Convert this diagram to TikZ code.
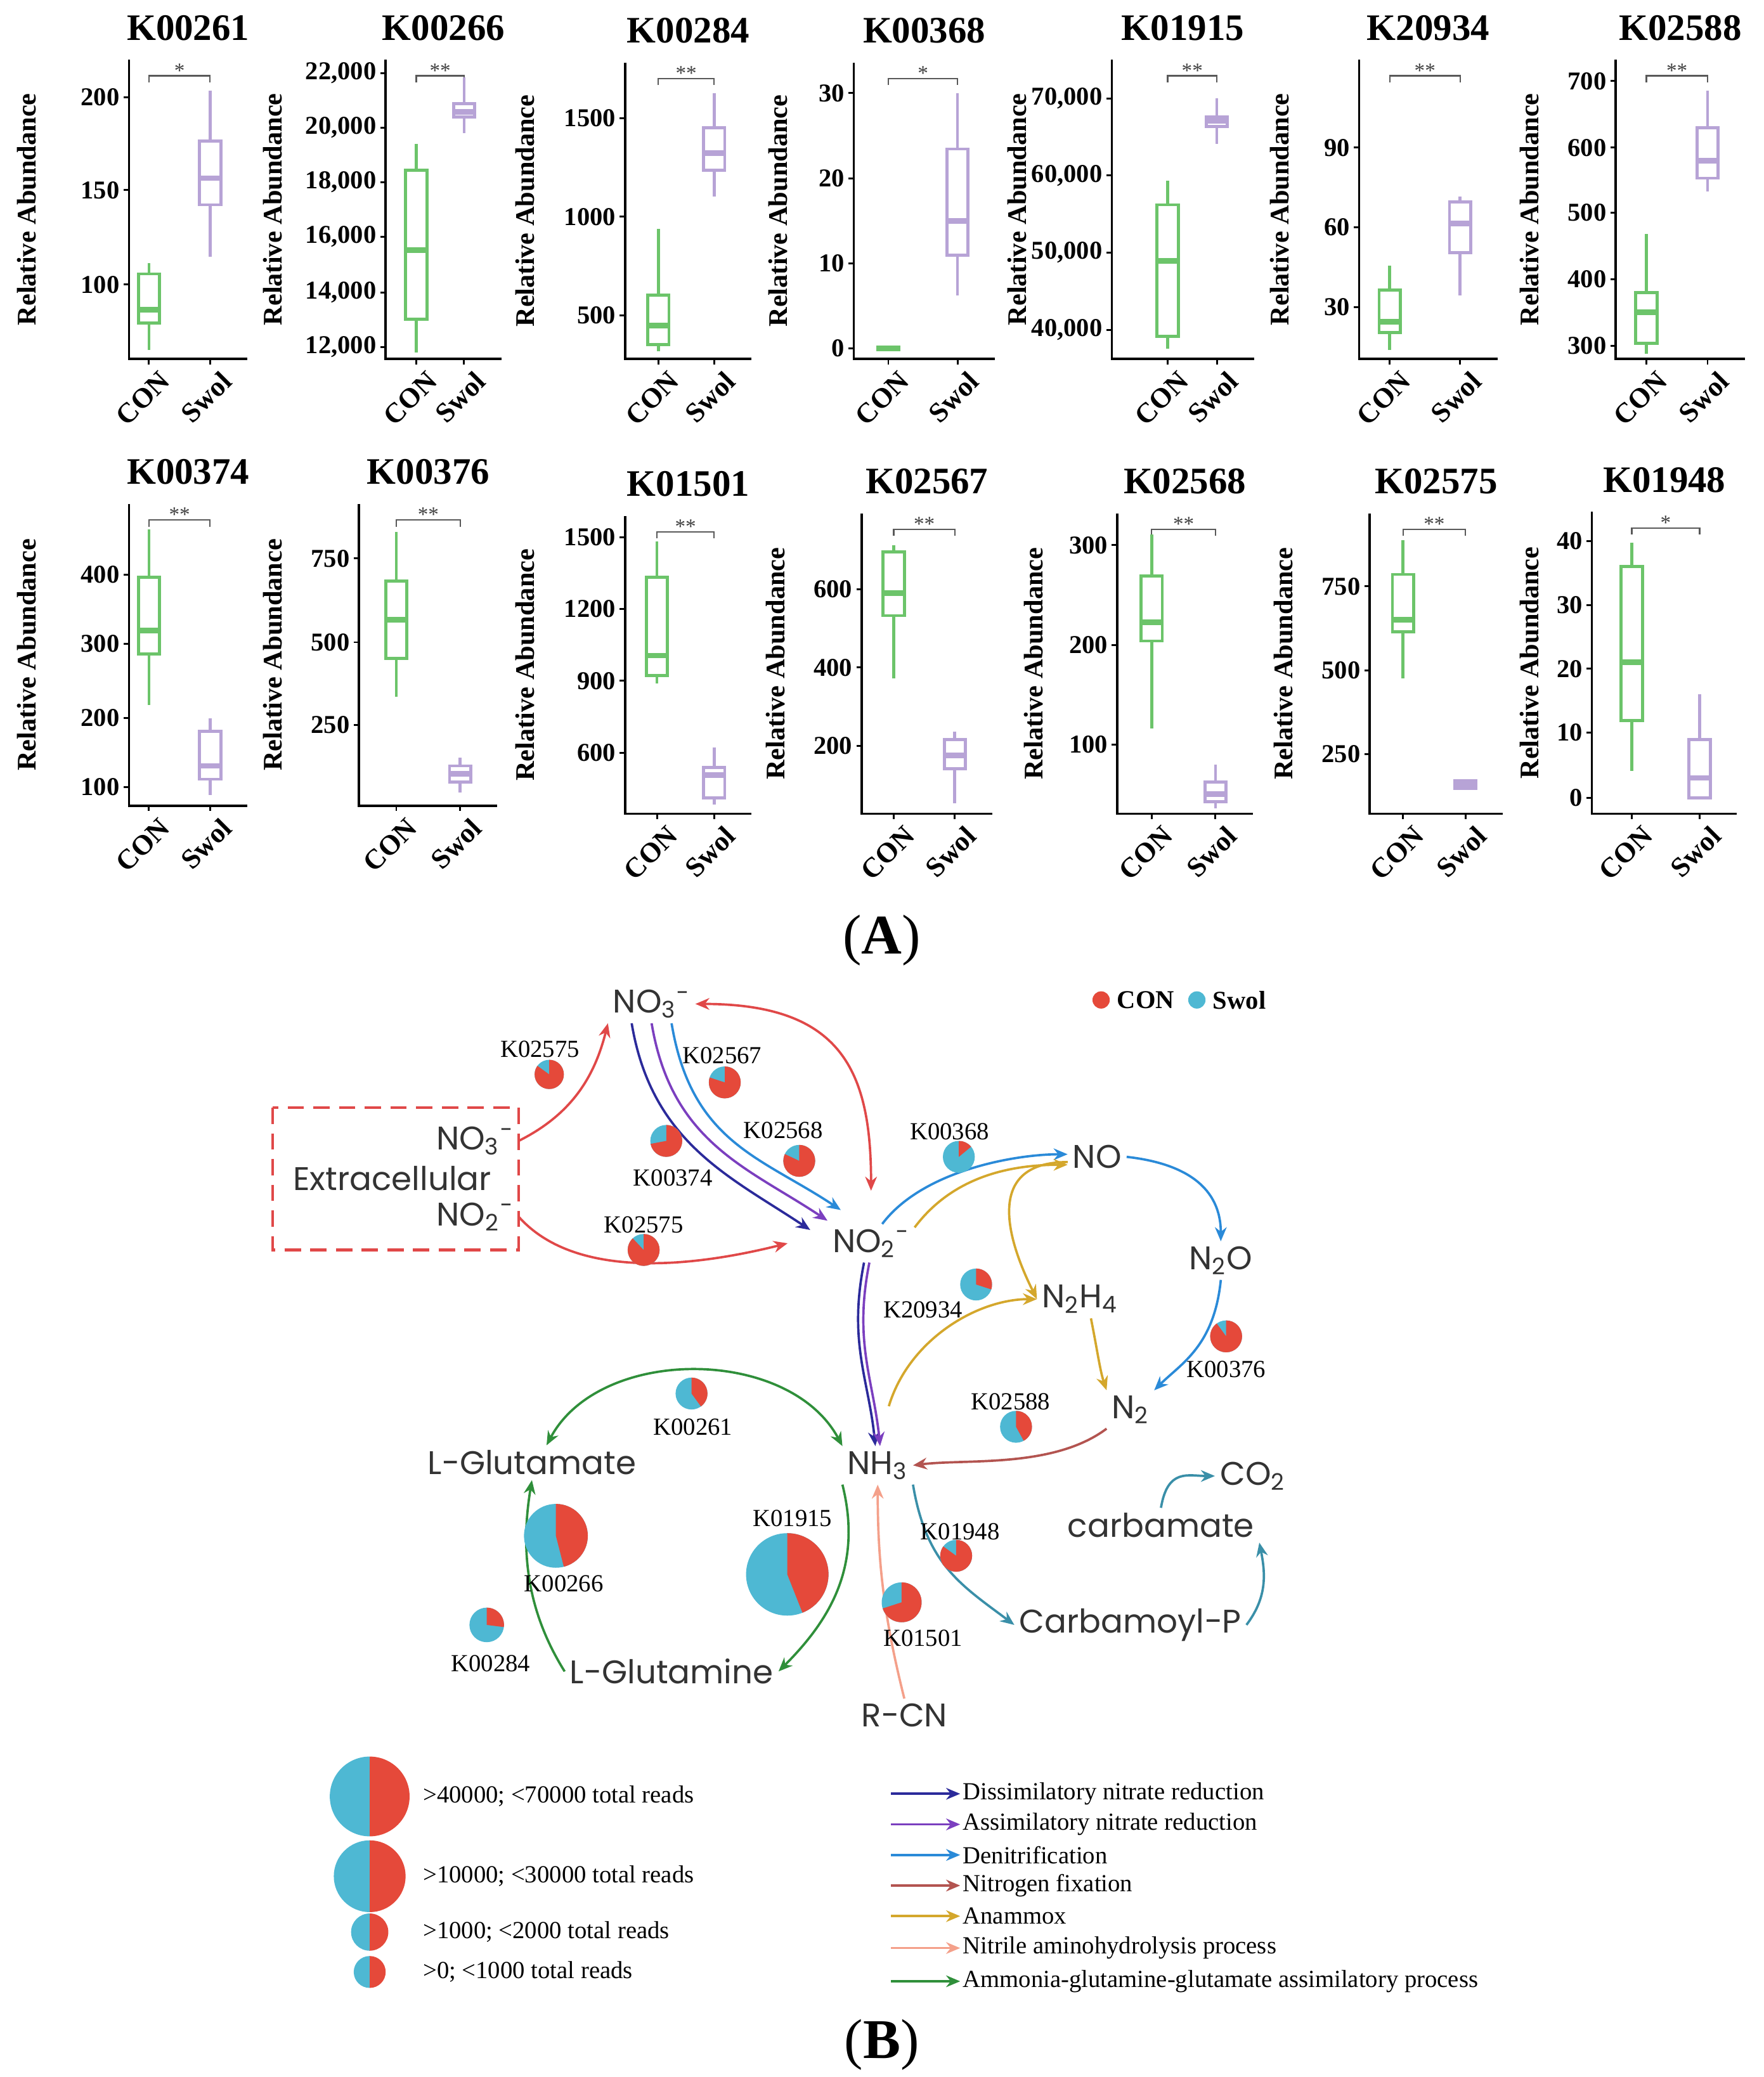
\documentclass[tikz,border=0pt]{standalone}
\usepackage{fontspec}
\setmainfont{Liberation Serif}
\newfontfamily\chemfont{Poppins}
\usepackage{xcolor}
\usetikzlibrary{arrows.meta}

\definecolor{conred}{HTML}{E5493A}
\definecolor{swolblue}{HTML}{4EB8D3}
\definecolor{boxgreen}{HTML}{6CC46A}
\definecolor{boxpurple}{HTML}{B7A3D6}
\definecolor{dissim}{HTML}{2B2A9A}
\definecolor{assim}{HTML}{7B3FBF}
\definecolor{denit}{HTML}{2A8AD8}
\definecolor{nfix}{HTML}{B35450}
\definecolor{anam}{HTML}{D4A72C}
\definecolor{nitrile}{HTML}{F4A08A}
\definecolor{ammo}{HTML}{2F8F3A}
\definecolor{carbo}{HTML}{3A8FA8}
\definecolor{exred}{HTML}{E04848}

% one boxplot panel: L, top, bottom, CON x, Swol x, title, stars, label x
\newcommand{\panel}[8]{%
  \draw[line width=1pt] (#1,#2) -- (#1,#3) -- (#5+28,#3);
  \draw[line width=0.8pt] (#4,#3) -- (#4,#3+4) (#5,#3) -- (#5,#3+4);
  \node[ttl] at ({(#1+#5+28)/2},#2-24) {#6};
  \draw[gray!70!black, line width=0.6pt] (#4,#2+17) -- (#4,#2+12) -- (#5,#2+12) -- (#5,#2+17);
  \node[star] at ({(#4+#5)/2},#2+8) {#7};
  \node[grp] at (#4+7,#3+5) {CON};
  \node[grp] at (#5+7,#3+5) {Swol};
  \node[ylab] at (#8,{(#2+#3)/2}) {Relative Abundance};
}
\newcommand{\yticks}[2]{%
  \foreach \p/\t in {#2} {
    \draw[line width=0.8pt] (#1-4,\p) -- (#1,\p);
    \node[tick] at (#1-5,\p) {\t};
  }
}
% x, whisker top, q3, median, q1, whisker bottom, colour
\newcommand{\bx}[7]{%
  \draw[#7, line width=1.3pt] (#1,#2) -- (#1,#3) (#1,#5) -- (#1,#6);
  \draw[#7, line width=1.3pt] (#1-8,#3) rectangle (#1+8,#5);
  \draw[#7, line width=2.4pt] (#1-8,#4) -- (#1+8,#4);
}
% pie: x, y, radius, CON fraction
\newcommand{\pie}[4]{%
  \begin{scope}[shift={(#1,#2)}]
    \fill[swolblue] (0,0) circle[radius=#3*0.02cm];
    \fill[conred] (0,0) -- (0,-#3) arc[start angle=90, end angle={90-360*#4}, radius=#3*0.02cm] -- cycle;
  \end{scope}
}

\begin{document}
\begin{tikzpicture}[x=0.02cm, y=-0.02cm, >={Stealth[length=6pt,width=5pt]},
    ttl/.style={font=\fontsize{16}{18}\selectfont\bfseries},
    star/.style={font=\fontsize{9}{10}\selectfont, gray!50!black},
    grp/.style={font=\fontsize{12}{14}\selectfont\bfseries, rotate=45, anchor=north east, inner sep=1pt},
    ylab/.style={font=\fontsize{11.5}{13}\selectfont\bfseries, rotate=90},
    tick/.style={font=\fontsize{11}{13}\selectfont\bfseries, anchor=east, inner sep=1pt},
    chem/.style={font=\chemfont\fontsize{14}{16}\selectfont, inner sep=2pt, text=black!80},
    klab/.style={font=\fontsize{10.5}{12}\selectfont, inner sep=1pt},
    leg/.style={font=\fontsize{10.5}{12}\selectfont, anchor=west, inner sep=1pt},
    path/.style={line width=1pt}]
\useasboundingbox (0,0) rectangle (1326,1562);

% ---------- (A) boxplots, first row
\panel{97}{45}{270}{112}{158}{K00261}{*}{20}
\yticks{97}{73/200,143/150,214/100}
\bx{112}{198}{206}{233}{243}{263}{boxgreen}
\bx{158}{68}{106}{134}{154}{193}{boxpurple}

\panel{290}{45}{270}{313}{349}{K00266}{**}{205}
\yticks{290}{55/{22,000},96/{20,000},137/{18,000},178/{16,000},220/{14,000},261/{12,000}}
\bx{313}{108}{128}{188}{240}{265}{boxgreen}
\bx{349}{58}{78}{84}{88}{100}{boxpurple}

\panel{470}{47}{270}{495}{537}{K00284}{**}{395}
\yticks{470}{89/1500,163/1000,237/500}
\bx{495}{172}{222}{245}{259}{264}{boxgreen}
\bx{537}{70}{96}{115}{128}{148}{boxpurple}

\panel{642}{47}{270}{668}{720}{K00368}{*}{585}
\yticks{642}{70/30,134/20,198/10,262/0}
\bx{668}{261}{261}{262}{263}{263}{boxgreen}
\bx{720}{70}{112}{166}{192}{222}{boxpurple}

\panel{836}{45}{270}{878}{915}{K01915}{**}{765}
\yticks{836}{74/{70,000},132/{60,000},190/{50,000},248/{40,000}}
\bx{878}{136}{154}{196}{253}{262}{boxgreen}
\bx{915}{74}{88}{91}{95}{108}{boxpurple}

\panel{1022}{45}{270}{1045}{1098}{K20934}{**}{962}
\yticks{1022}{111/90,171/60,231/30}
\bx{1045}{200}{218}{242}{250}{263}{boxgreen}
\bx{1098}{148}{152}{168}{190}{222}{boxpurple}

\panel{1215}{45}{270}{1238}{1284}{K02588}{**}{1150}
\yticks{1215}{61/700,111/600,160/500,210/400,260/300}
\bx{1238}{176}{220}{235}{258}{266}{boxgreen}
\bx{1284}{68}{96}{121}{134}{144}{boxpurple}

% ---------- (A) boxplots, second row
\panel{97}{379}{606}{112}{158}{K00374}{**}{20}
\yticks{97}{432/400,484/300,540/200,592/100}
\bx{112}{398}{434}{474}{492}{530}{boxgreen}
\bx{158}{540}{550}{576}{586}{598}{boxpurple}

\panel{270}{379}{606}{298}{346}{K00376}{**}{205}
\yticks{270}{420/750,483/500,545/250}
\bx{298}{400}{437}{466}{495}{524}{boxgreen}
\bx{346}{570}{576}{582}{588}{596}{boxpurple}

\panel{470}{388}{612}{494}{537}{K01501}{**}{395}
\yticks{470}{404/1500,458/1200,512/900,566/600}
\bx{494}{407}{434}{493}{508}{514}{boxgreen}
\bx{537}{562}{577}{583}{600}{605}{boxpurple}

\panel{648}{386}{612}{672}{718}{K02567}{**}{583}
\yticks{648}{443/600,502/400,561/200}
\bx{672}{410}{415}{446}{463}{510}{boxgreen}
\bx{718}{550}{556}{568}{578}{604}{boxpurple}

\panel{840}{386}{612}{866}{914}{K02568}{**}{777}
\yticks{840}{410/300,485/200,560/100}
\bx{866}{402}{433}{468}{482}{548}{boxgreen}
\bx{914}{575}{588}{597}{603}{608}{boxpurple}

\panel{1030}{386}{612}{1055}{1102}{K02575}{**}{965}
\yticks{1030}{441/750,504/500,567/250}
\bx{1055}{406}{432}{466}{475}{510}{boxgreen}
\bx{1102}{586}{587}{590}{593}{594}{boxpurple}

\panel{1197}{385}{612}{1227}{1278}{K01948}{*}{1150}
\yticks{1197}{407/40,455/30,503/20,551/10,600/0}
\bx{1227}{408}{426}{498}{542}{580}{boxgreen}
\bx{1278}{522}{556}{585}{600}{600}{boxpurple}

\node[font=\fontsize{24}{26}\selectfont] (labA) at (663,707) {(\textbf{A})};

% ---------- (B) nitrogen pathways
\draw[exred, dashed, line width=1.2pt, dash pattern=on 7pt off 4pt] (205,833) rectangle (390,940);
\node[chem, anchor=east] (exno3) at (390,858) {NO\textsubscript{3}\textsuperscript{−}};
\node[chem] (exlab) at (295,886) {Extracellular};
\node[chem, anchor=east] (exno2) at (390,915) {NO\textsubscript{2}\textsuperscript{−}};

\node[chem] (no3) at (490,755) {NO\textsubscript{3}\textsuperscript{−}};
\node[chem] (no2) at (655,935) {NO\textsubscript{2}\textsuperscript{−}};
\node[chem] (no) at (825,870) {NO};
\node[chem] (n2o) at (918,948) {N\textsubscript{2}O};
\node[chem] (n2h4) at (812,977) {N\textsubscript{2}H\textsubscript{4}};
\node[chem] (n2) at (850,1060) {N\textsubscript{2}};
\node[chem] (nh3) at (660,1102) {NH\textsubscript{3}};
\node[chem] (glu) at (400,1100) {L−Glutamate};
\node[chem] (gln) at (505,1257) {L−Glutamine};
\node[chem] (rcn) at (680,1290) {R−CN};
\node[chem] (cp) at (850,1222) {Carbamoyl−P};
\node[chem] (carb) at (873,1147) {carbamate};
\node[chem] (co2) at (942,1110) {CO\textsubscript{2}};

% connectors
\draw[path, exred, ->] (exno3.east) .. controls +(40,-20) and +(-10,40) .. (no3.south west);
\draw[path, exred, <->] (no3.east) .. controls +(110,0) and +(0,-90) .. ([yshift=0.5cm]no2.north);
\draw[path, dissim, ->] ([xshift=-0.3cm]no3.south) .. controls +(15,90) and +(-60,-40) .. ([shift={(-13,-10)}]no2.west);
\draw[path, assim, ->] (no3.south) .. controls +(15,90) and +(-60,-40) .. ([shift={(0,-17)}]no2.west);
\draw[path, denit, ->] ([xshift=0.3cm]no3.south) .. controls +(15,90) and +(-60,-40) .. ([shift={(10,-25)}]no2.west);
\draw[path, exred, ->] (exno2.east) .. controls +(40,45) and +(-80,20) .. ([xshift=-0.6cm]no2.west);
\draw[path, denit, ->] (no2.60) .. controls +(30,-40) and +(-40,0) .. (no.175);
\draw[path, anam, ->] (no2.20) .. controls +(30,-40) and +(-40,0) .. (no.-165);
\draw[path, anam, ->] (no.-170) .. controls +(-60,0) and +(-25,-50) .. (n2h4.west);
\draw[path, anam, ->] ([yshift=0.6cm]nh3.60) .. controls +(15,-50) and +(-45,0) .. (n2h4.west);
\draw[path, anam, ->] (n2h4.-60) .. controls +(5,25) and +(-5,-15) .. (n2.north west);
\draw[path, denit, ->] (no.east) .. controls +(45,5) and +(0,-40) .. (n2o.north);
\draw[path, denit, ->] (n2o.south) .. controls +(-5,50) and +(20,-20) .. (n2.north east);
\draw[path, nfix, ->] (n2.south west) .. controls +(-40,30) and +(40,-5) .. (nh3.east);
\draw[path, dissim, ->] (no2.-110) .. controls +(-12,60) and +(-5,-50) .. (nh3.97);
\draw[path, assim, ->] (no2.-95) .. controls +(-12,60) and +(-5,-50) .. (nh3.83);
\draw[path, ammo, <->] (glu.50) .. controls +(40,-75) and +(-40,-75) .. (nh3.north west);
\draw[path, ammo, ->] (nh3.south west) .. controls +(15,60) and +(40,-40) .. (gln.east);
\draw[path, ammo, ->] (gln.west) .. controls +(-25,-40) and +(-10,60) .. (glu.south);
\draw[path, nitrile, ->] (rcn.north) .. controls +(-15,-60) and +(0,60) .. (nh3.south);
\draw[path, carbo, ->] (nh3.south east) .. controls +(10,60) and +(-40,-30) .. (cp.west);
\draw[path, carbo, ->] (cp.east) .. controls +(15,-20) and +(5,25) .. (carb.south east);
\draw[path, carbo, ->] (carb.north) .. controls +(5,-30) and +(-20,0) .. (co2.west);

% enzyme pies
\pie{413}{808}{11}{0.85} \node[klab] (k1) at (406,789) {K02575};
\pie{545}{814}{12}{0.8}  \node[klab] (k2) at (543,794) {K02567};
\pie{501}{858}{12}{0.72} \node[klab] (k3) at (506,886) {K00374};
\pie{601}{873}{12}{0.82} \node[klab] (k4) at (589,850) {K02568};
\pie{484}{940}{12}{0.88} \node[klab] (k5) at (484,921) {K02575};
\pie{721}{870}{12}{0.14} \node[klab] (k6) at (714,851) {K00368};
\pie{734}{966}{12}{0.3}  \node[klab] (k7) at (694,985) {K20934};
\pie{922}{1005}{12}{0.9} \node[klab] (k8) at (922,1030) {K00376};
\pie{764}{1073}{12}{0.42} \node[klab] (k9) at (760,1054) {K02588};
\pie{520}{1048}{12}{0.4} \node[klab] (k10) at (521,1073) {K00261};
\pie{418}{1155}{24}{0.46} \node[klab] (k11) at (424,1191) {K00266};
\pie{366}{1222}{13}{0.27} \node[klab] (k12) at (369,1251) {K00284};
\pie{592}{1184}{31}{0.44} \node[klab] (k13) at (596,1142) {K01915};
\pie{719}{1170}{12}{0.85} \node[klab] (k14) at (722,1152) {K01948};
\pie{678}{1205}{15}{0.7}  \node[klab] (k15) at (694,1232) {K01501};

% group key
\fill[conred] (828,752) circle[radius=0.13cm];
\node[leg, font=\fontsize{11}{13}\selectfont\bfseries] (kcon) at (838,752) {CON};
\fill[swolblue] (900,752) circle[radius=0.13cm];
\node[leg, font=\fontsize{11}{13}\selectfont\bfseries] (kswol) at (910,752) {Swol};

% size key
\foreach \yy/\rr/\tt [count=\i] in {1351/30/{>40000; <70000 total reads}, 1411/27/{>10000; <30000 total reads}, 1453/14/{>1000; <2000 total reads}, 1483/12/{>0; <1000 total reads}} {
  \fill[swolblue] (278,\yy) ++(0,-\rr) arc[start angle=90, end angle=270, radius=\rr*0.02cm] -- cycle;
  \fill[conred] (278,\yy) ++(0,-\rr) arc[start angle=90, end angle=-90, radius=\rr*0.02cm] -- cycle;
  \node[leg] (s\i) at (316,\yy) {\tt};
}

% pathway key
\foreach \yy/\cc/\tt [count=\i] in {1349/dissim/Dissimilatory nitrate reduction, 1372/assim/Assimilatory nitrate reduction, 1395/denit/Denitrification, 1418/nfix/Nitrogen fixation, 1441/anam/Anammox, 1465/nitrile/Nitrile aminohydrolysis process, 1490/ammo/Ammonia-glutamine-glutamate assimilatory process} {
  \coordinate (l\i) at (670,\yy);
  \node[leg] (t\i) at (722,\yy) {\tt};
  \draw[path, \cc, ->] (l\i) -- (t\i.west);
}

\node[font=\fontsize{24}{26}\selectfont] (labB) at (663,1538) {(\textbf{B})};
\end{tikzpicture}
\end{document}
